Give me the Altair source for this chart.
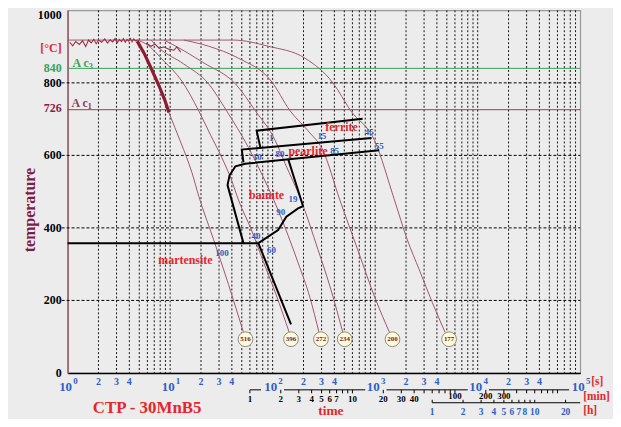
import altair as alt
import pandas as pd

FONT = "Liberation Serif"
W, H = 516, 365

# ---------------- data ----------------
T_AUST = 918
AC3 = 840
AC1 = 726
MS = 358

# measured (thick) cooling curve, fastest
thick_t = [4.77, 5.57, 6.51, 7.79, 8.91, 9.73]
thick_T = [915, 882, 841, 792, 751, 718]
# noise of the measured signals on the austenitizing plateau
noise_t = [1.05, 1.12, 1.2, 1.3, 1.4, 1.5, 1.6, 1.7, 1.8, 1.9, 2.0, 2.15, 2.3, 2.45,
           2.6, 2.75, 2.9, 3.05, 3.2, 3.35, 3.5, 3.65, 3.8, 3.95, 4.1, 4.25, 4.4, 4.6, 4.8]
noise_T = [912, 902, 914, 906, 916, 900, 918, 910, 920, 908, 918, 912, 921, 910,
           919, 913, 922, 911, 920, 914, 922, 912, 920, 915, 922, 913, 921, 916, 918]
noise2_t = [5.83, 6.51, 7.14, 7.79, 8.71, 9.73, 10.9, 11.6, 12.7]
noise2_T = [910, 901, 907, 896, 899, 893, 890, 899, 885]

c516_t = [4.99, 6.51, 7.79, 9.73, 12.7, 16.3, 19.0, 26.6, 37.1, 51.9]
c516_T = [910, 841, 792, 718, 636, 553, 488, 367, 244, 112]
c396_t = [4.77, 5.83, 8.71, 13.0, 19.0, 24.9, 31.8, 39.7, 46.4, 62.0, 81.1, 108, 145]
c396_T = [918, 907, 860, 805, 723, 655, 595, 532, 477, 395, 307, 216, 112]
c272_t = [6.51, 7.79, 13.6, 23.8, 35.5, 58.0, 77.6, 113, 177, 231, 283]
c272_T = [918, 896, 852, 797, 723, 622, 551, 449, 304, 208, 112]
c234_t = [8.71, 10.4, 21.3, 43.4, 67.8, 106, 132, 189, 277, 370, 483]
c234_T = [918, 907, 855, 797, 723, 641, 578, 477, 340, 230, 112]
c200_t = [13.6, 23.8, 46.4, 96.9, 148, 221, 309, 452, 675, 1009, 1379]
c200_T = [918, 901, 868, 805, 723, 668, 614, 477, 340, 203, 112]
c177_t = [1, 41.5, 90.6, 207, 387, 578, 987, 1542, 2060, 2690, 3600, 4810]
c177_T = [918, 918, 901, 868, 800, 723, 641, 477, 367, 285, 195, 112]

hard_vals = [516, 396, 272, 234, 200, 177]
hard_t = [54.3, 151, 296, 505, 1475, 5260]
hard_T = 93

# transformation boundaries (black)
ferrite_start_t = [755, 69.8, 75.8]
ferrite_start_T = [701, 668, 622]
pearlite_start_t = [923, 50.0, 51.9]
pearlite_start_T = [648, 616, 581]
pearlite_end_t = [1096, 53.9, 43.4, 38.0, 36.3, 51.9]
pearlite_end_T = [614, 577, 570, 545, 518, 358]
ms_t = [1, 72.5]
ms_T = [MS, MS]
bainite_end_t = [72.5, 113, 136, 177, 198, 142]
bainite_end_T = [358, 394, 431, 454, 460, 589]
lower_t = [72.5, 151]
lower_T = [358, 134]

# phase labels
phase_names = ["ferrite", "pearlite", "bainite", "martensite"]
phase_t = [470, 221, 87.3, 14.1]
phase_T = [679, 612, 490, 312]

# percentages
pct_txt = ["1", "10", "80", "85", "15", "45", "55", "19", "90", "40", "60", "100"]
pct_t = [96.9, 70.9, 118, 402, 302, 877, 1096, 158, 120, 68.9, 97.6, 32]
pct_T = [647, 595, 605, 612, 653, 664, 627, 481, 445, 378, 340, 331]

# axis structure
y_vals = [0, 200, 400, 600, 800]
y_top = [1000]
grid_x = [m * 10 ** k for k in range(5) for m in range(2, 10)] + [10, 100, 1000, 10000]
grid_y = [200, 400, 600, 800]
s_minor_t = [m * 10 ** k for k in range(5) for m in (2, 3, 4)]
s_minor_lbl = [str(m) for k in range(5) for m in (2, 3, 4)]
s_dec_t = [1, 10, 100, 1000, 10000, 100000]
s_dec_exp = ["0", "1", "2", "3", "4", "5"]
min_seg_start = [60, 129, 1290, 12900]
min_seg_end = [77, 800, 8000, 78000]
min_ticks = [1, 2, 3, 4, 5, 6, 7, 8, 9, 10, 20, 30, 40, 50, 60, 70, 80, 90,
             100, 200, 300, 400, 500, 600, 700, 800, 900, 1000]
min_lbl_low = [1, 2, 3, 4, 5, 6, 7, 10, 20, 30, 40]
min_lbl_high = [100, 200, 300]
h_ticks = [1, 2, 3, 4, 5, 6, 7, 8, 9, 10, 20]
h_lbl = [1, 2, 3, 4, 5, 6, 7, 8, 10, 20]

# ---------------- helpers ----------------
xs = alt.Scale(type="log", domain=[1, 100000], nice=False)
ys = alt.Scale(domain=[0, 1000], nice=False)
xaxis = alt.Axis(labels=False, ticks=False, grid=False, title=None,
                 domainColor="black", domainWidth=1.5)
yaxis = alt.Axis(labels=False, title=None, grid=False, ticks=False,
                 domainColor="#9b5b6b", domainWidth=1.5)


def X(f="time"):
    return alt.X(f + ":Q", scale=xs, axis=xaxis)


def Y(f="temp"):
    return alt.Y(f + ":Q", scale=ys, axis=yaxis)


def lines_df(named):
    rows = []
    for name, (ts, Ts) in named.items():
        for i, (a, b) in enumerate(zip(ts, Ts)):
            rows.append({"id": name, "i": i, "time": a, "temp": b})
    return pd.DataFrame(rows)


CURVE = "#a3566c"
BLUE = "#2f5fc4"
RED = "#e3262b"
MAROON = "#8b1a4b"
GREEN = "#3aa05a"

layers = []

# vertical dotted grid
layers.append(alt.Chart(pd.DataFrame({"time": grid_x})).mark_rule(
    color="black", strokeDash=[2, 2], strokeWidth=0.9).encode(
    x=X(), y=alt.value(0), y2=alt.value(H)))
# horizontal dashed grid
layers.append(alt.Chart(pd.DataFrame({"temp": grid_y})).mark_rule(
    color="black", strokeDash=[3, 2], strokeWidth=1).encode(
    y=Y(), x=alt.value(-6), x2=alt.value(W)))
# Ac3 / Ac1
layers.append(alt.Chart(pd.DataFrame({"temp": [AC3]})).mark_rule(
    color=GREEN, strokeWidth=1).encode(y=Y(), x=alt.value(0), x2=alt.value(W)))
layers.append(alt.Chart(pd.DataFrame({"temp": [AC1]})).mark_rule(
    color="#8e4257", strokeWidth=1).encode(y=Y(), x=alt.value(0), x2=alt.value(W)))

# cooling curves
cool = lines_df({"516": (c516_t, c516_T), "396": (c396_t, c396_T),
                 "272": (c272_t, c272_T), "234": (c234_t, c234_T),
                 "200": (c200_t, c200_T), "177": (c177_t, c177_T)})
layers.append(alt.Chart(cool).mark_line(color=CURVE, strokeWidth=1,
                                        interpolate="monotone").encode(
    x=X(), y=Y(), detail="id:N", order="i:Q"))
noise = lines_df({"n": (noise_t, noise_T), "n2": (noise2_t, noise2_T)})
layers.append(alt.Chart(noise).mark_line(color="#9a3048", strokeWidth=1.1).encode(
    x=X(), y=Y(), detail="id:N", order="i:Q"))
thick = lines_df({"m": (thick_t, thick_T)})
layers.append(alt.Chart(thick).mark_line(color="#8c1c30", strokeWidth=3.2).encode(
    x=X(), y=Y(), order="i:Q"))

# transformation boundaries
bnd = lines_df({"fs": (ferrite_start_t, ferrite_start_T),
                "ps": (pearlite_start_t, pearlite_start_T),
                "pe": (pearlite_end_t, pearlite_end_T),
                "ms": (ms_t, ms_T), "be": (bainite_end_t, bainite_end_T),
                "lo": (lower_t, lower_T)})
layers.append(alt.Chart(bnd).mark_line(color="black", strokeWidth=2).encode(
    x=X(), y=Y(), detail="id:N", order="i:Q"))

# hardness circles
hd = pd.DataFrame({"time": hard_t, "temp": [hard_T] * 6, "v": [str(v) for v in hard_vals]})
layers.append(alt.Chart(hd).mark_point(shape="circle", filled=True, size=220,
                                        fill="#fffbd2", stroke="#8a8a8a",
                                        strokeWidth=1, opacity=1).encode(x=X(), y=Y()))
layers.append(alt.Chart(hd).mark_text(font=FONT, fontWeight="bold", fontSize=7,
                                       color="#7b1040").encode(x=X(), y=Y(), text="v:N"))

# phase names
ph = pd.DataFrame({"time": phase_t, "temp": phase_T, "txt": phase_names})
layers.append(alt.Chart(ph).mark_text(font=FONT, fontWeight="bold", fontSize=12,
                                       color=RED).encode(x=X(), y=Y(), text="txt:N"))
pc = pd.DataFrame({"time": pct_t, "temp": pct_T, "txt": pct_txt})
layers.append(alt.Chart(pc).mark_text(font=FONT, fontWeight="bold", fontSize=9,
                                       color=BLUE).encode(x=X(), y=Y(), text="txt:N"))

# ---- temperature axis labels ----
yl = pd.DataFrame({"temp": y_vals, "txt": [str(v) for v in y_vals]})
layers.append(alt.Chart(yl).mark_text(font=FONT, fontWeight="bold", fontSize=12,
                                       color="black", align="right").encode(
    x=alt.value(-6), y=Y(), text="txt:N"))
yt = pd.DataFrame({"temp": y_top, "txt": [str(v) for v in y_top]})
layers.append(alt.Chart(yt).mark_text(font=FONT, fontWeight="bold", fontSize=12,
                                       color="black", align="right", dy=5).encode(
    x=alt.value(-6), y=Y(), text="txt:N"))

# ---- seconds axis labels ----
sm = pd.DataFrame({"time": s_minor_t, "txt": s_minor_lbl})
layers.append(alt.Chart(sm).mark_text(font=FONT, fontWeight="bold", fontSize=10,
                                       color=BLUE).encode(x=X(), y=alt.value(374),
                                                          text="txt:N"))
sd = pd.DataFrame({"time": s_dec_t, "txt": ["10"] * 6, "e": s_dec_exp})
layers.append(alt.Chart(sd).mark_text(font=FONT, fontWeight="bold", fontSize=13,
                                       color=BLUE, dx=-2).encode(
    x=X(), y=alt.value(379), text="txt:N"))
layers.append(alt.Chart(sd).mark_text(font=FONT, fontWeight="bold", fontSize=9,
                                       color=BLUE, dx=8).encode(
    x=X(), y=alt.value(373), text="e:N"))

# ---- minutes axis ----
ms_seg = pd.DataFrame({"time": min_seg_start, "time2": min_seg_end})
layers.append(alt.Chart(ms_seg).mark_rule(color="black", strokeWidth=1).encode(
    x=X(), x2="time2:Q", y=alt.value(382)))
mt = pd.DataFrame({"time": [60 * m for m in min_ticks]})
layers.append(alt.Chart(mt).mark_rule(color="black", strokeWidth=1).encode(
    x=X(), y=alt.value(382), y2=alt.value(385.5)))
ml = pd.DataFrame({"time": [60 * m for m in min_lbl_low], "txt": [str(m) for m in min_lbl_low]})
layers.append(alt.Chart(ml).mark_text(font=FONT, fontWeight="bold", fontSize=9,
                                       color="black").encode(
    x=X(), y=alt.value(391), text="txt:N"))
mh = pd.DataFrame({"time": [60 * m for m in min_lbl_high], "txt": [str(m) for m in min_lbl_high]})
layers.append(alt.Chart(mh).mark_text(font=FONT, fontWeight="bold", fontSize=9,
                                       color="black").encode(
    x=X(), y=alt.value(388.5), text="txt:N"))

# ---- hours axis ----
layers.append(alt.Chart(pd.DataFrame({"time": [3600], "time2": [100000]})).mark_rule(
    color="black", strokeWidth=1).encode(x=X(), x2="time2:Q", y=alt.value(395)))
ht = pd.DataFrame({"time": [3600 * h for h in h_ticks]})
layers.append(alt.Chart(ht).mark_rule(color="black", strokeWidth=1).encode(
    x=X(), y=alt.value(392), y2=alt.value(395)))
hl = pd.DataFrame({"time": [3600 * h for h in h_lbl], "txt": [str(h) for h in h_lbl]})
layers.append(alt.Chart(hl).mark_text(font=FONT, fontWeight="bold", fontSize=9.5,
                                       color=BLUE).encode(
    x=X(), y=alt.value(404), text="txt:N"))


# ---- free texts (positioned in the margins) ----
def txt(s, x, y, color, size, align="center", angle=0, baseline="middle"):
    kw = dict(font=FONT, fontWeight="bold", fontSize=size, color=color,
              align=align, baseline=baseline, text=s)
    if angle:
        kw["angle"] = angle
    return alt.Chart(pd.DataFrame({"a": [0]})).mark_text(**kw).encode(
        x=alt.value(x), y=alt.value(y))


layers += [
    txt("[s]", 527, 374, RED, 11.5, align="left"),
    txt("[min]", 519, 389.5, RED, 11.5, align="left"),
    txt("[h]", 519, 403, RED, 11.5, align="left"),
    txt("[°C]", -6, 38, RED, 12, align="right"),
    txt("temperature", -38, 201, "#7b1c4a", 16, angle=270),
    txt("CTP - 30MnB5", 80, 400, RED, 17),
    txt("time", 265, 410, RED, 13.5, baseline="bottom"),
    txt("A c", 5, 53, GREEN, 12, align="left"),
    txt("3", 21, 56, GREEN, 9, align="left"),
    txt("A c", 4, 93, "#8e4257", 12, align="left"),
    txt("1", 20, 96, "#8e4257", 9, align="left"),
]

# coloured axis values
layers.append(alt.Chart(pd.DataFrame({"temp": [AC3], "txt": ["840"]})).mark_text(
    font=FONT, fontWeight="bold", fontSize=12, color=GREEN, align="right", dx=-6).encode(
    x=alt.value(0), y=Y(), text="txt:N"))
layers.append(alt.Chart(pd.DataFrame({"temp": [AC1], "txt": ["726"]})).mark_text(
    font=FONT, fontWeight="bold", fontSize=12, color=MAROON, align="right", dx=-6, dy=-2).encode(
    x=alt.value(0), y=Y(), text="txt:N"))

chart = alt.layer(*layers).properties(
    width=W, height=H, background="#ececec",
    autosize=alt.AutoSizeParams(type="none"),
    padding={"left": 60, "top": 1, "right": 33, "bottom": 45},
).configure_view(stroke="#999999", strokeWidth=1.2)

chart.save("out.html", embed_options={"renderer": "svg", "actions": False})
